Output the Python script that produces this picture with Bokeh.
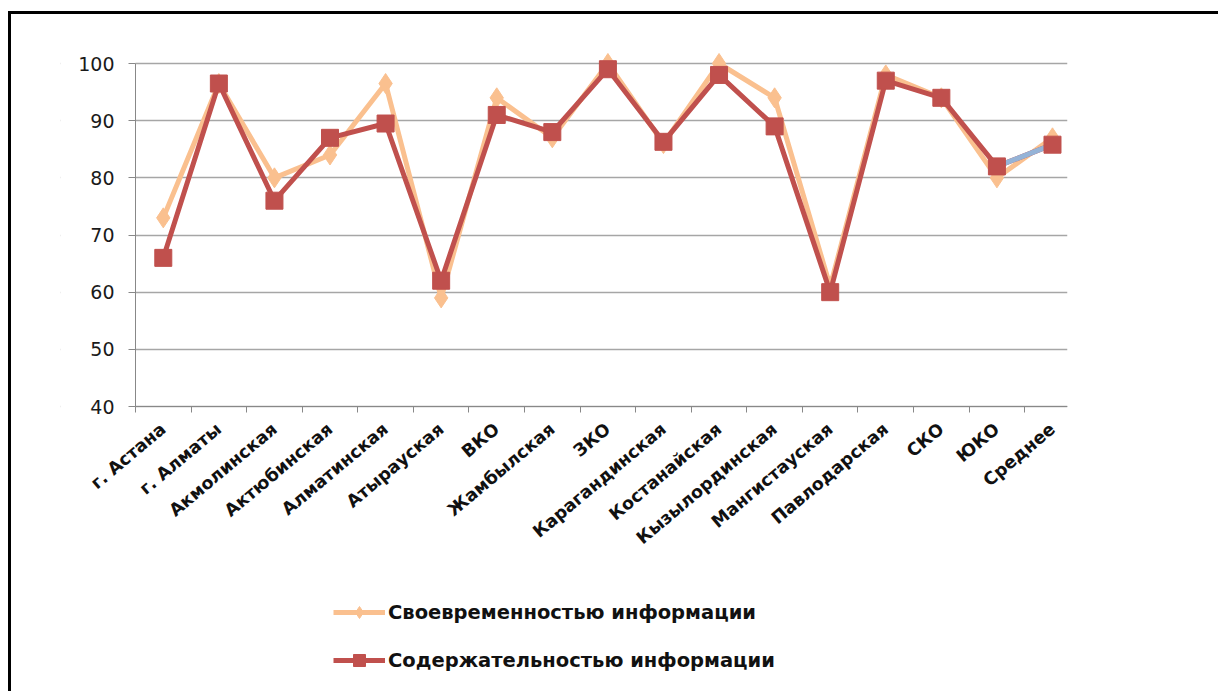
import math
from bokeh.plotting import figure
from bokeh.models import Range1d, FixedTicker, Legend, LegendItem, BoxAnnotation
from bokeh.embed import file_html
from bokeh.resources import INLINE

regions = ["г. Астана", "г. Алматы", "Акмолинская", "Актюбинская", "Алматинская",
           "Атырауская", "ВКО", "Жамбылская", "ЗКО", "Карагандинская", "Костанайская",
           "Кызылординская", "Мангистауская", "Павлодарская", "СКО", "ЮКО", "Среднее"]
timeliness = [73, 96.5, 80, 84, 96.5, 59, 94, 87, 100, 86, 100, 94, 61, 98, 94, 80, 87]
content = [66, 96.5, 76, 87, 89.5, 62, 91, 88, 99, 86.3, 98, 89, 60, 97, 94, 82, 85.8]
third = [None] * 15 + [82, 85.8]
y_ticks = [40, 50, 60, 70, 80, 90, 100]

xs = list(range(1, len(regions) + 1))
third_vals = [float("nan") if v is None else v for v in third]

# canvas starts at (11, 14); frame: left 60, top 30, bottom 690
# value axis: x=0.5 -> page x 135, x=17.27 -> page x 1067; y=100 -> 63, y=40 -> 406
x_lo, x_hi = 0.5, 17.27
px_x = (1067 - 135) / (x_hi - x_lo)
x_start = x_lo - (135 - 60) / px_x
px_y = (406 - 63) / 60.0
y_start = 40 - (690 - 406) / px_y
y_end = 100 + (63 - 30) / px_y

p = figure(width=1210, height=680, output_backend="svg", toolbar_location=None,
           x_range=Range1d(x_start, x_hi), y_range=Range1d(y_start, y_end),
           min_border_left=49, min_border_right=154, min_border_top=16,
           min_border_bottom=4)
p.styles = {"border-top": "3px solid black", "border-left": "3px solid black",
            "margin-top": "11px", "margin-left": "8px"}
p.outline_line_color = None
p.background_fill_color = "white"
p.border_fill_color = "white"

# axes
p.xaxis.fixed_location = 40
p.xaxis.bounds = (x_lo, x_hi)
p.xaxis.ticker = FixedTicker(ticks=xs, minor_ticks=[i + 0.5 for i in range(len(regions))])
p.xaxis.major_label_overrides = {x: r for x, r in zip(xs, regions)}
p.xaxis.major_label_orientation = math.radians(40)
p.xaxis.major_tick_out = 0
p.xaxis.major_tick_in = 0
p.xaxis.minor_tick_out = 6
p.xaxis.minor_tick_in = 0
p.xaxis.minor_tick_line_color = "#888888"
p.xaxis.axis_line_color = "#888888"
p.xaxis.major_label_text_font = "DejaVu Sans"
p.xaxis.major_label_text_font_style = "bold"
p.xaxis.major_label_text_font_size = "17.5px"
p.xaxis.major_label_text_color = "#111111"
p.xaxis.major_label_standoff = 14

p.yaxis.fixed_location = x_lo
p.yaxis.ticker = FixedTicker(ticks=y_ticks)
p.yaxis.bounds = (40, 100)
p.yaxis.axis_line_color = "#888888"
p.yaxis.major_tick_line_color = "#888888"
p.yaxis.major_tick_out = 7
p.yaxis.major_tick_in = 0
p.yaxis.minor_tick_line_color = None
p.yaxis.major_label_text_font = "DejaVu Sans"
p.yaxis.major_label_text_font_size = "19px"
p.yaxis.major_label_text_color = "#1a1a1a"
p.yaxis.major_label_standoff = 14

p.xgrid.grid_line_color = None
p.ygrid.grid_line_color = "#A6A6A6"
p.ygrid.grid_line_width = 1.5

# hide grid lines left of the value axis
p.add_layout(BoxAnnotation(right=x_lo, fill_color="white", fill_alpha=1,
                           line_color=None, level="underlay"))

# series
orange = "#FAC08F"
red = "#C0504D"
blue = "#95B3D7"

l1 = p.line(xs, timeliness, line_color=orange, line_width=5)
s1 = p.scatter(xs, timeliness, marker="diamond", size=20, fill_color=orange, line_color=orange)
l2 = p.line(xs, content, line_color=red, line_width=5)
lb = p.line(xs, third_vals, line_color=blue, line_width=5)
s2 = p.scatter(xs, content, marker="square", size=17, fill_color=red, line_color=red)

legend = Legend(items=[
    LegendItem(label="Своевременностью информации", renderers=[l1, s1]),
    LegendItem(label="Содержательностью информации", renderers=[l2, s2]),
], location=(333 - 60, 15))
legend.border_line_color = None
legend.background_fill_alpha = 0
legend.padding = 0
legend.margin = 0
legend.glyph_width = 52
legend.glyph_height = 30
legend.label_height = 20
legend.label_standoff = 3
legend.spacing = 18
legend.label_text_font = "DejaVu Sans"
legend.label_text_font_style = "bold"
legend.label_text_font_size = "19.5px"
legend.label_text_color = "#111111"
p.add_layout(legend, "center")

open("out.html", "w").write(file_html(p, INLINE))
